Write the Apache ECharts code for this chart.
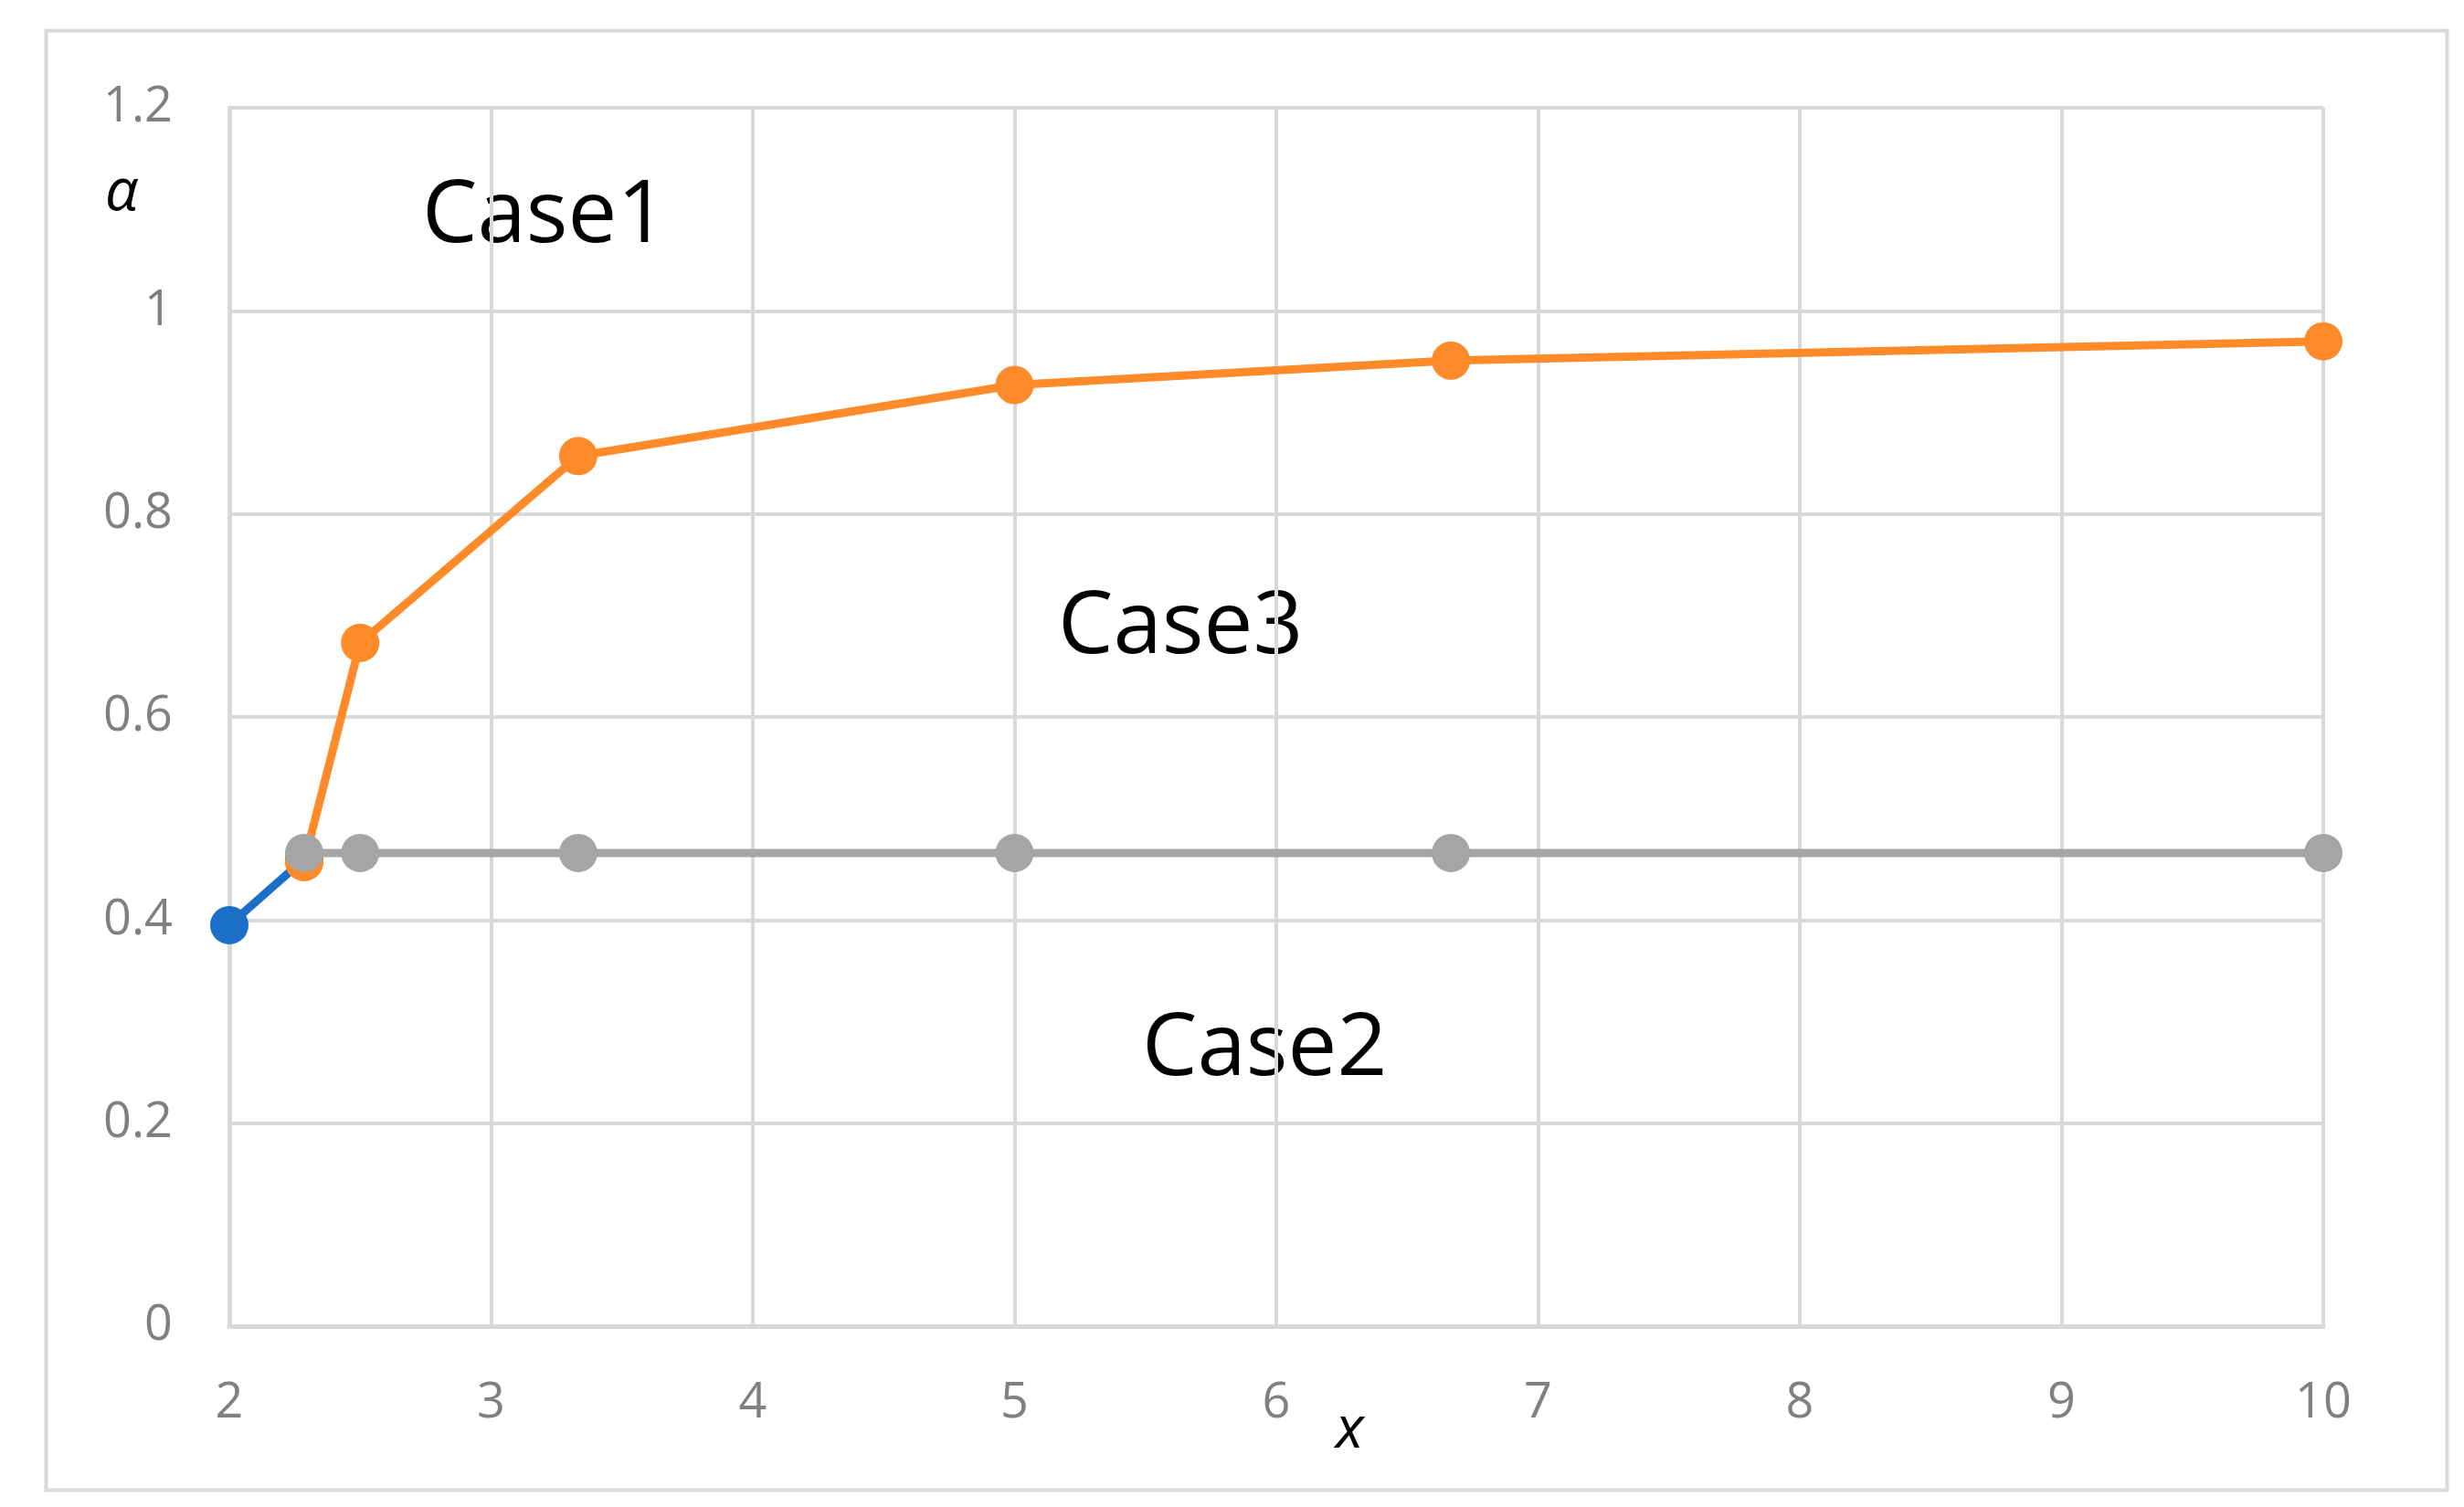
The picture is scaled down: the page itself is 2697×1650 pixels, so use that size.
<!DOCTYPE html>
<html>
<head>
<meta charset="utf-8">
<script src="https://cdn.jsdelivr.net/npm/echarts@6/dist/echarts.min.js"></script>
<style>html,body{margin:0;background:#fff}#main{width:2697px;height:1650px}</style>
</head>
<body>
<div id="main"></div>
<script>
var xTicks = [2, 3, 4, 5, 6, 7, 8, 9, 10];
var blueX = [2, 2.286];
var blueY = [0.395, 0.46];
var orangeX = [2.286, 2.5, 3.333, 5, 6.667, 10];
var orangeY = [0.457, 0.673, 0.857, 0.927, 0.951, 0.97];
var grayX = [2.286, 2.5, 3.333, 5, 6.667, 10];
var grayY = [0.466, 0.466, 0.466, 0.466, 0.466, 0.466];

function pairs(xs, ys) { return xs.map(function (x, i) { return [x, ys[i]]; }); }

var myChart = echarts.init(document.getElementById('main'));
var font = '"Open Sans", "Noto Sans", sans-serif';
function line(name, xs, ys, color, z) {
  return {
    name: name, type: 'line', data: pairs(xs, ys), z: z,
    symbol: 'circle', symbolSize: 42,
    lineStyle: { color: color, width: 9 },
    itemStyle: { color: color }
  };
}
var option = {
  backgroundColor: '#fff',
  animation: false,
  grid: { left: 251, right: 140 + 14, top: 118, bottom: 198 },
  xAxis: {
    type: 'value', min: 2, max: 10, interval: 1,
    axisLine: { lineStyle: { color: '#d9d9d9', width: 5 } },
    axisTick: { show: false },
    splitLine: { lineStyle: { color: '#d9d9d9', width: 4 } },
    axisLabel: { color: '#808080', fontSize: 54, fontFamily: font, margin: 58 }
  },
  yAxis: {
    type: 'value', min: 0, max: 1.2, interval: 0.2,
    axisLine: { show: true, lineStyle: { color: '#d9d9d9', width: 5 } },
    axisTick: { show: false },
    splitLine: { lineStyle: { color: '#d9d9d9', width: 4 } },
    axisLabel: { color: '#808080', fontSize: 54, fontFamily: font, margin: 62,
      formatter: function (v) { return +v.toFixed(1); } }
  },
  series: [
    line('Case1', blueX, blueY, '#1c6fc7', 2),
    line('Case2', orangeX, orangeY, '#ff8a2a', 3),
    line('Case3', grayX, grayY, '#a5a5a5', 4)
  ],
  graphic: [
    { type: 'rect', left: 48, top: 31, shape: { width: 2628, height: 1598 },
      style: { fill: 'none', stroke: '#d9d9d9', lineWidth: 4 } },
    { type: 'text', left: 462, top: 190, style: { text: 'Case1', fontSize: 96, fontFamily: font, fill: '#000' } },
    { type: 'text', left: 1158, top: 640, style: { text: 'Case3', fontSize: 96, fontFamily: font, fill: '#000' } },
    { type: 'text', left: 1250, top: 1102, style: { text: 'Case2', fontSize: 96, fontFamily: font, fill: '#000' } },
    { type: 'text', left: 115, top: 180, style: { text: 'α', fontSize: 64, fontStyle: 'italic', fontFamily: font, fill: '#000' } },
    { type: 'text', left: 1462, top: 1535, style: { text: 'x', fontSize: 64, fontStyle: 'italic', fontFamily: font, fill: '#000' } }
  ]
};
myChart.setOption(option);
</script>
</body>
</html>
